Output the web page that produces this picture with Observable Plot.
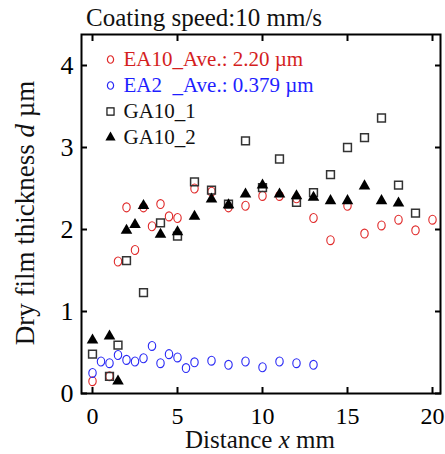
<!DOCTYPE html>
<html>
<head>
<meta charset="utf-8">
<script src="https://cdn.jsdelivr.net/npm/d3@7"></script>
<script src="https://cdn.jsdelivr.net/npm/@observablehq/plot@0.6"></script>
<style>
  body { margin: 0; background: #fff; font-family: "Liberation Serif", "Times New Roman", serif; }
  #title { position: absolute; top: 5px; left: 86px; font-size: 25px; line-height: 1; color: #111; white-space: pre; }
  #chart { padding-top: 30px; }
  svg { overflow: visible; }
</style>
</head>
<body>
<div id="title">Coating speed:10 mm/s</div>
<div id="chart"></div>
<script>
// Distance x (mm) and dry film thickness d (µm) for each sample
const ea10X = [0, 1, 1.5, 2, 2.5, 3, 3.5, 4, 4.5, 5, 6, 7, 8, 9, 10, 11, 12, 13, 14, 15, 16, 17, 18, 19, 20];
const ea10Y = [0.15, 0.21, 1.61, 2.27, 1.75, 2.27, 2.04, 2.31, 2.16, 2.14, 2.50, 2.46, 2.27, 2.29, 2.41, 2.41, 2.38, 2.14, 1.87, 2.29, 1.95, 2.05, 2.12, 1.99, 2.12];

const ea2X = [0, 0.5, 1, 1.5, 2, 2.5, 3, 3.5, 4, 4.5, 5, 5.5, 6, 7, 8, 9, 10, 11, 12, 13];
const ea2Y = [0.25, 0.39, 0.37, 0.47, 0.41, 0.39, 0.43, 0.58, 0.37, 0.48, 0.44, 0.31, 0.38, 0.40, 0.35, 0.39, 0.32, 0.39, 0.37, 0.35];

const ga1X = [0, 1, 1.5, 2, 3, 4, 5, 6, 7, 8, 9, 10, 11, 12, 13, 14, 15, 16, 17, 18, 19];
const ga1Y = [0.48, 0.21, 0.59, 1.62, 1.23, 2.08, 1.92, 2.58, 2.48, 2.31, 3.08, 2.51, 2.86, 2.33, 2.45, 2.67, 3.00, 3.12, 3.36, 2.54, 2.20];

const ga2X = [0, 1, 1.5, 2, 2.5, 3, 4, 5, 6, 7, 8, 9, 10, 11, 12, 13, 14, 15, 16, 17, 18];
const ga2Y = [0.65, 0.70, 0.15, 1.99, 2.06, 2.29, 1.94, 1.97, 2.16, 2.37, 2.30, 2.43, 2.54, 2.43, 2.41, 2.39, 2.35, 2.35, 2.53, 2.35, 2.32];

// Legend entries
const seriesNames = ["EA10_Ave.: 2.20 \u00b5m", "EA2\u00a0 _Ave.: 0.379 \u00b5m", "GA10_1", "GA10_2"];

// Axis ticks
const xTicks = [0, 5, 10, 15, 20];
const yTicks = [0, 1, 2, 3, 4];

const red = "#e02a2a";
const blue = "#2a2af5";
const redText = "#d41e1e";
const blueText = "#1e1eff";

const pts = (xs, ys) => xs.map((x, i) => ({x, y: ys[i]}));

// slightly tall ellipse used for the hollow circle markers
const ellipse = {
  draw(ctx, size) {
    const r = Math.sqrt(size / Math.PI);
    const rx = r * 0.86, ry = r * 1.04, k = 0.5523;
    ctx.moveTo(rx, 0);
    ctx.bezierCurveTo(rx, ry * k, rx * k, ry, 0, ry);
    ctx.bezierCurveTo(-rx * k, ry, -rx, ry * k, -rx, 0);
    ctx.bezierCurveTo(-rx, -ry * k, -rx * k, -ry, 0, -ry);
    ctx.bezierCurveTo(rx * k, -ry, rx, -ry * k, rx, 0);
    ctx.closePath();
  }
};

const legendStyles = [
  {symbol: ellipse, stroke: red, fill: "none", r: 3.6, text: redText},
  {symbol: ellipse, stroke: blue, fill: "none", r: 3.6, text: blueText},
  {symbol: "square", stroke: "#111", fill: "none", r: 4.0, text: "#111"},
  {symbol: "triangle", stroke: "none", fill: "#000", r: 3.8, text: "#111"}
];

const legendMarks = seriesNames.flatMap((name, i) => {
  const s = legendStyles[i];
  const dy = 25 + i * 26;
  return [
    Plot.dot([name], {frameAnchor: "top-left", dx: 29, dy, symbol: s.symbol, r: s.r,
      stroke: s.stroke, fill: s.fill, strokeWidth: 1.2}),
    Plot.text([name], {frameAnchor: "top-left", dx: 42, dy, text: d => d, textAnchor: "start",
      lineAnchor: "middle", fontSize: 21, fill: s.text, fontFamily: "Liberation Serif"})
  ];
});

const chart = Plot.plot({
  width: 445,
  height: 424,
  marginTop: 4,
  marginBottom: 61,
  marginLeft: 81,
  marginRight: 5,
  style: {fontFamily: "Liberation Serif", background: "#fff", color: "#000"},
  x: {domain: [-11 / 17, 20 + 8 / 17]},
  y: {domain: [0, 359 / 82]},
  marks: [
    Plot.dot(pts(ea10X, ea10Y), {x: "x", y: "y", symbol: ellipse, r: 4.3, stroke: red, strokeWidth: 1.1, fill: "none"}),
    Plot.dot(pts(ea2X, ea2Y), {x: "x", y: "y", symbol: ellipse, r: 4.3, stroke: blue, strokeWidth: 1.1, fill: "none"}),
    Plot.dot(pts(ga1X, ga1Y), {x: "x", y: "y", symbol: "square", r: 4.4, stroke: "#333", strokeWidth: 1.5, fill: "none"}),
    Plot.dot(pts(ga2X, ga2Y), {x: "x", y: "y", symbol: "triangle", r: 4.3, fill: "#000", stroke: "none"}),
    ...legendMarks,
    Plot.axisX({ticks: xTicks, anchor: "bottom", tickSize: -6, tickPadding: 19, strokeWidth: 2, fontSize: 24, label: null, tickFormat: d => d}),
    Plot.axisX({ticks: xTicks, anchor: "top", tickSize: -6, strokeWidth: 2, label: null, tickFormat: () => ""}),
    Plot.axisY({ticks: yTicks, anchor: "left", tickSize: -6, tickPadding: 14, strokeWidth: 2, fontSize: 26, label: null, tickFormat: d => d}),
    Plot.axisY({ticks: yTicks, anchor: "right", tickSize: -6, strokeWidth: 2, label: null, tickFormat: () => ""}),
    Plot.frame({stroke: "#000", strokeWidth: 2})
  ]
});

// Axis titles with italic variable names
const svg = d3.select(chart);
const xt = svg.append("text")
  .attr("x", 260).attr("y", 418)
  .attr("text-anchor", "middle")
  .attr("font-size", 25).attr("font-family", "Liberation Serif").attr("fill", "#111");
xt.append("tspan").text("Distance ");
xt.append("tspan").attr("font-style", "italic").text("x");
xt.append("tspan").text(" mm");

const yt = svg.append("text")
  .attr("transform", "translate(34,183) rotate(-90)")
  .attr("text-anchor", "middle")
  .attr("font-size", 27).attr("font-family", "Liberation Serif").attr("fill", "#111");
yt.append("tspan").text("Dry film thickness ");
yt.append("tspan").attr("font-style", "italic").text("d");
yt.append("tspan").text(" \u00b5m");

document.getElementById("chart").appendChild(chart);
</script>
</body>
</html>
